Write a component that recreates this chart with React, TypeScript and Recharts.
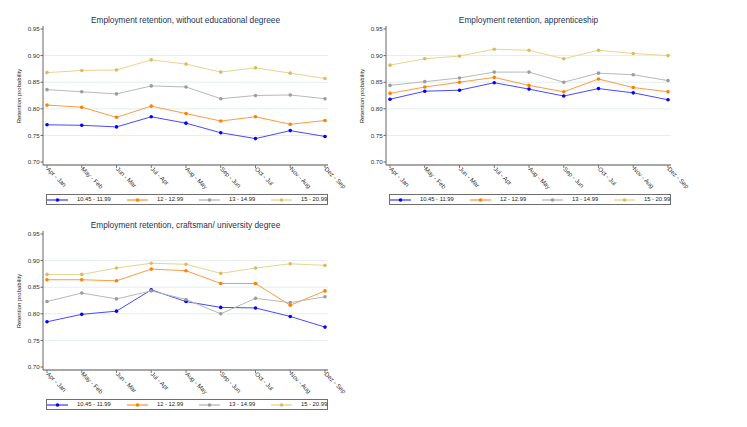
import React from 'react';
import { LineChart, Line, XAxis, YAxis, ReferenceLine, Legend } from 'recharts';

const categories = ['Apr - Jan', 'May - Feb', 'Jun - Mar', 'Jul - Apr', 'Aug - May', 'Sep - Jun', 'Oct - Jul', 'Nov - Aug', 'Dez - Sep'];
const seriesNames = ['10.45 - 11.99', '12 - 12.99', '13 - 14.99', '15 - 20.99'];
const yTicks = [0.7, 0.75, 0.8, 0.85, 0.9, 0.95];
const gridValues = [0.75, 0.8, 0.85, 0.9];

// Panel 1: without educational degree
const noDegree10 = [0.770, 0.769, 0.766, 0.785, 0.773, 0.755, 0.744, 0.759, 0.748];
const noDegree12 = [0.807, 0.803, 0.784, 0.805, 0.791, 0.777, 0.785, 0.771, 0.778];
const noDegree13 = [0.836, 0.832, 0.828, 0.843, 0.841, 0.819, 0.825, 0.826, 0.819];
const noDegree15 = [0.868, 0.872, 0.873, 0.892, 0.884, 0.869, 0.877, 0.867, 0.857];

// Panel 2: apprenticeship
const appr10 = [0.818, 0.833, 0.835, 0.849, 0.837, 0.824, 0.838, 0.830, 0.817];
const appr12 = [0.829, 0.841, 0.850, 0.859, 0.844, 0.832, 0.856, 0.840, 0.832];
const appr13 = [0.844, 0.851, 0.858, 0.869, 0.869, 0.850, 0.867, 0.864, 0.853];
const appr15 = [0.882, 0.894, 0.899, 0.912, 0.910, 0.894, 0.910, 0.904, 0.900];

// Panel 3: craftsman / university degree
const craft10 = [0.785, 0.799, 0.805, 0.845, 0.823, 0.812, 0.811, 0.795, 0.775];
const craft12 = [0.864, 0.864, 0.862, 0.884, 0.881, 0.857, 0.857, 0.816, 0.843];
const craft13 = [0.823, 0.839, 0.828, 0.843, 0.827, 0.800, 0.829, 0.821, 0.832];
const craft15 = [0.874, 0.874, 0.886, 0.895, 0.893, 0.876, 0.886, 0.894, 0.891];

const panelTitles = [
  'Employment retention, without educational degreee',
  'Employment retention, apprenticeship',
  'Employment retention, craftsman/ university degree',
];

const lineColors = ['#4848ff', '#ff9a40', '#b8b8b8', '#e8d38e'];
const dotColors = ['#0000ff', '#ff7f00', '#9c9c9c', '#dcbb5c'];

const FONT = '"Liberation Sans", Arial, sans-serif';

const buildRows = (s: number[][]) =>
  categories.map((c, i) => ({ cat: c, s0: s[0][i], s1: s[1][i], s2: s[2][i], s3: s[3][i] }));

const panels = [
  { title: panelTitles[0], rows: buildRows([noDegree10, noDegree12, noDegree13, noDegree15]), left: 0, top: 0 },
  { title: panelTitles[1], rows: buildRows([appr10, appr12, appr13, appr15]), left: 343, top: 0 },
  { title: panelTitles[2], rows: buildRows([craft10, craft12, craft13, craft15]), left: 0, top: 205 },
];

const legendOffsets = [1, 81, 153, 225];

const LegendBox = () => (
  <div
    style={{
      position: 'relative',
      width: 282,
      height: 11,
      boxSizing: 'border-box',
      border: '1px solid #6e6e6e',
      background: '#fff',
      fontFamily: FONT,
      fontSize: 5.8,
      color: '#222',
    }}
  >
    {seriesNames.map((n, i) => (
      <div
        key={n}
        style={{ position: 'absolute', left: legendOffsets[i] - 1, top: 0, height: 9, display: 'flex', alignItems: 'center', whiteSpace: 'nowrap' }}
      >
        <svg width={21} height={6} style={{ display: 'block' }}>
          <line x1={0} y1={3} x2={21} y2={3} stroke={lineColors[i]} strokeWidth={2} opacity={0.65} />
          <circle cx={10.5} cy={3} r={1.8} fill={dotColors[i]} />
        </svg>
        <span style={{ marginLeft: 9, lineHeight: '9px' }}>{n}</span>
      </div>
    ))}
  </div>
);

const XTick = (props: any) => {
  const { x, y, payload } = props;
  return (
    <g transform={`translate(${x - 1},${y - 0.5})`}>
      <text x={0} y={0} transform="rotate(45)" textAnchor="start" fontSize={6.2} fill="#333" fontFamily={FONT}>
        {payload.value}
      </text>
    </g>
  );
};

const Panel = ({ title, rows }: { title: string; rows: any[] }) => (
  <div style={{ position: 'relative', width: 343, height: 205 }}>
    <LineChart width={343} height={205} data={rows} margin={{ top: 26, right: 15, bottom: 0, left: 0 }}>
      {gridValues.map((v) => (
        <ReferenceLine key={v} y={v} stroke="#e4eeef" strokeWidth={1} />
      ))}
      <XAxis
        dataKey="cat"
        interval={0}
        padding={{ left: 4, right: 3 }}
        height={29}
        tick={<XTick />}
        tickSize={3}
        tickMargin={2}
        tickLine={{ stroke: '#777' }}
        axisLine={{ stroke: '#8a8a8a', strokeWidth: 1.3 }}
      />
      <YAxis
        type="number"
        domain={[0.6944, 0.9556]}
        allowDataOverflow
        ticks={yTicks}
        width={43}
        tickSize={2.5}
        tickMargin={0.8}
        tickFormatter={(v: number) => v.toFixed(2)}
        tick={{ fontSize: 6.2, fill: '#333', fontFamily: FONT }}
        tickLine={{ stroke: '#666' }}
        axisLine={{ stroke: '#666', strokeWidth: 1 }}
      />
      <Legend verticalAlign="bottom" wrapperStyle={{ left: 46, top: 194, width: 282, height: 11 }} content={() => <LegendBox />} />
      {seriesNames.map((n, i) => (
        <Line
          key={n}
          name={n}
          dataKey={`s${i}`}
          type="linear"
          stroke={lineColors[i]}
          strokeWidth={1}
          dot={{ r: 1.8, fill: dotColors[i], stroke: 'none' }}
          activeDot={false}
          isAnimationActive={false}
        />
      ))}
    </LineChart>
    <div
      style={{
        position: 'absolute',
        left: 43,
        width: 285,
        top: 15,
        textAlign: 'center',
        fontFamily: FONT,
        fontSize: 8.3,
        lineHeight: '10px',
        color: '#23335a',
        whiteSpace: 'nowrap',
      }}
    >
      {title}
    </div>
    <div
      style={{
        position: 'absolute',
        left: 19,
        top: 96,
        transform: 'translate(-50%, -50%) rotate(-90deg)',
        fontFamily: FONT,
        fontSize: 6,
        color: '#222',
        whiteSpace: 'nowrap',
      }}
    >
      Retention probability
    </div>
  </div>
);

export default function App() {
  return (
    <div style={{ position: 'absolute', left: 0, top: 0, width: 747, height: 427, background: '#fff' }}>
      <style>{'.recharts-surface{overflow:visible}.recharts-wrapper{overflow:visible}'}</style>
      {panels.map((p) => (
        <div key={p.title} style={{ position: 'absolute', left: p.left, top: p.top }}>
          <Panel title={p.title} rows={p.rows} />
        </div>
      ))}
    </div>
  );
}
